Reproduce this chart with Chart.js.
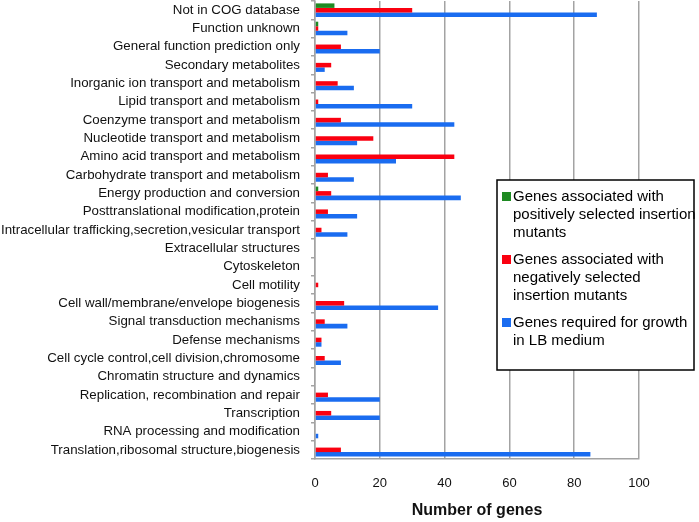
<!DOCTYPE html>
<html><head><meta charset="utf-8">
<script src="https://cdn.jsdelivr.net/npm/chart.js@4/dist/chart.umd.min.js"></script>
<style>html,body{margin:0;padding:0;background:#fff}canvas{display:block}</style>
</head><body>
<canvas id="c" width="699" height="522"></canvas>
<script>
const categories = [
  "Not in COG database",
  "Function unknown",
  "General function prediction only",
  "Secondary metabolites",
  "Inorganic ion transport and metabolism",
  "Lipid transport and metabolism",
  "Coenzyme transport and metabolism",
  "Nucleotide transport and metabolism",
  "Amino acid transport and metabolism",
  "Carbohydrate transport and metabolism",
  "Energy production and conversion",
  "Posttranslational modification,protein",
  "Intracellular trafficking,secretion,vesicular transport",
  "Extracellular structures",
  "Cytoskeleton",
  "Cell motility",
  "Cell wall/membrane/envelope biogenesis",
  "Signal transduction mechanisms",
  "Defense mechanisms",
  "Cell cycle control,cell division,chromosome",
  "Chromatin structure and dynamics",
  "Replication, recombination and repair",
  "Transcription",
  "RNA processing and modification",
  "Translation,ribosomal structure,biogenesis"
];
const positiveSel = [6,1,0,0,0,0,0,0,0,0,1,0,0,0,0,0,0,0,0,0,0,0,0,0,0];
const negativeSel = [30,1,8,5,7,1,8,18,43,4,5,4,2,0,0,1,9,3,2,3,0,4,5,0,8];
const lbGrowth    = [87,10,20,3,12,30,43,13,25,12,45,13,10,0,0,0,38,10,2,8,0,20,20,1,85];
const xTicks = [0,20,40,60,80,100];
const seriesNames = [
  ["Genes associated with","positively selected insertion","mutants"],
  ["Genes associated with","negatively selected","insertion mutants"],
  ["Genes required for growth","in LB medium"]
];
const seriesColors = ["#1e8a22","#fa0010","#1a6cf0"];

const FONT = '"Liberation Sans", Arial, Helvetica, sans-serif';
const GRID = '#a3a3a3';

const boxLegend = {
  id: 'boxLegend',
  afterDraw(chart) {
    const ctx = chart.ctx;
    const x = 497, y = 180, w = 197, h = 190;
    ctx.save();
    ctx.fillStyle = '#fff';
    ctx.fillRect(x, y, w, h);
    ctx.strokeStyle = '#000';
    ctx.lineWidth = 1.5;
    ctx.strokeRect(x, y, w, h);
    ctx.font = '15px ' + FONT;
    ctx.textBaseline = 'middle';
    ctx.textAlign = 'left';
    let ty = 197;
    chart.data.datasets.forEach(ds => {
      ctx.fillStyle = ds.backgroundColor;
      ctx.fillRect(502, ty - 5, 9, 9);
      ctx.fillStyle = '#000';
      ds.label.forEach((line, i) => ctx.fillText(line, 513, ty + i * 18));
      ty += ds.label.length * 18 + 9;
    });
    ctx.restore();
  }
};

new Chart(document.getElementById('c'), {
  type: 'bar',
  data: {
    labels: categories,
    datasets: [
      { label: seriesNames[0], data: positiveSel, backgroundColor: seriesColors[0] },
      { label: seriesNames[1], data: negativeSel, backgroundColor: seriesColors[1] },
      { label: seriesNames[2], data: lbGrowth, backgroundColor: seriesColors[2] }
    ]
  },
  options: {
    indexAxis: 'y',
    responsive: false,
    animation: false,
    devicePixelRatio: 1,
    layout: { padding: { left: 0, right: 60, top: 1, bottom: 0 } },
    datasets: { bar: { categoryPercentage: 0.74, barPercentage: 1.0, borderWidth: 0 } },
    plugins: { legend: { display: false }, tooltip: { enabled: false } },
    scales: {
      x: {
        min: 0, max: 100,
        afterBuildTicks(scale) { scale.ticks = xTicks.map(v => ({ value: v })); },
        afterFit(scale) { scale.height = 63; },
        grid: { color: GRID, lineWidth: 1.5, drawTicks: false },
        border: { display: true, color: GRID, width: 1.5 },
        ticks: { color: '#111', font: { family: FONT, size: 13 }, padding: 17 },
        title: {
          display: true, text: 'Number of genes', color: '#111',
          font: { family: FONT, size: 16, weight: 'bold' },
          padding: { top: 0, bottom: 2 }
        }
      },
      y: {
        afterFit(scale) { scale.width = 315; scale.paddingTop = 0; scale.paddingBottom = 0; },
        grid: { display: true, drawOnChartArea: false, drawTicks: true, tickLength: 4, color: GRID, lineWidth: 1.5, offset: true },
        border: { display: true, color: GRID, width: 1.5 },
        ticks: { color: '#111', font: { family: FONT, size: 13.3 }, padding: 11, autoSkip: false }
      }
    }
  },
  plugins: [boxLegend]
});
</script>
</body></html>
